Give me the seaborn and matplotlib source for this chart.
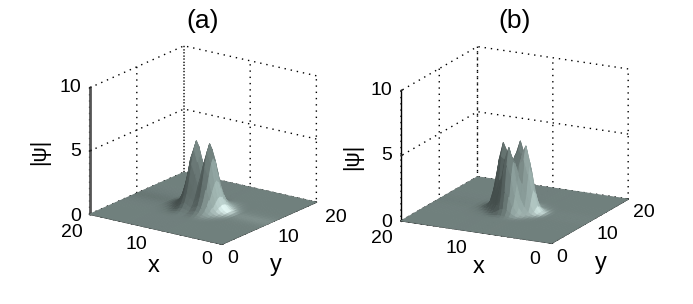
import matplotlib
matplotlib.use("Agg")
import matplotlib.pyplot as plt
import numpy as np
import seaborn as sns
from mpl_toolkits.mplot3d import proj3d

# distance from the centre (10, 10) of the nodes
offsets = [0, 0.5, 1, 1.5, 2, 2.5, 3, 3.5, 4, 4.5, 5]

# |psi| heights, one quadrant each (both humps are mirror symmetric)
# rows: |y - 10|, columns: |x - 10|
psi_a = [
    [2.90, 4.10, 5.20, 4.25, 2.50, 1.25, 0.60, 0.28, 0.13, 0.05, 0],
    [2.61, 3.69, 4.68, 3.83, 2.25, 1.13, 0.54, 0.25, 0.12, 0.05, 0],
    [1.97, 2.79, 3.54, 2.89, 1.70, 0.85, 0.41, 0.19, 0.09, 0.03, 0],
    [1.28, 1.80, 2.29, 1.87, 1.10, 0.55, 0.26, 0.12, 0.06, 0.02, 0],
    [0.73, 1.03, 1.30, 1.06, 0.63, 0.31, 0.15, 0.07, 0.03, 0.01, 0],
    [0.38, 0.53, 0.68, 0.55, 0.33, 0.16, 0.08, 0.04, 0.02, 0.01, 0],
    [0.19, 0.27, 0.34, 0.28, 0.16, 0.08, 0.04, 0.02, 0.01, 0, 0],
    [0.09, 0.12, 0.16, 0.13, 0.08, 0.04, 0.02, 0.01, 0, 0, 0],
    [0.03, 0.05, 0.06, 0.05, 0.03, 0.02, 0.01, 0, 0, 0, 0],
    [0.01, 0.02, 0.02, 0.02, 0.01, 0.01, 0, 0, 0, 0, 0],
    [0, 0, 0, 0, 0, 0, 0, 0, 0, 0, 0],
]
psi_b = [
    [2.51, 3.07, 4.39, 5.03, 3.82, 1.84, 0.57, 0.13, 0.03, 0.01, 0],
    [3.07, 3.27, 3.87, 4.09, 3.04, 1.47, 0.46, 0.11, 0.03, 0.01, 0],
    [4.39, 3.87, 3.02, 2.36, 1.58, 0.75, 0.26, 0.07, 0.02, 0.01, 0],
    [5.03, 4.09, 2.36, 1.20, 0.63, 0.29, 0.11, 0.04, 0.01, 0.01, 0],
    [3.82, 3.04, 1.58, 0.63, 0.25, 0.11, 0.05, 0.02, 0.01, 0, 0],
    [1.84, 1.47, 0.75, 0.29, 0.11, 0.05, 0.03, 0.01, 0.01, 0, 0],
    [0.57, 0.46, 0.26, 0.11, 0.05, 0.03, 0.02, 0.01, 0, 0, 0],
    [0.13, 0.11, 0.07, 0.04, 0.02, 0.01, 0.01, 0, 0, 0, 0],
    [0.03, 0.03, 0.02, 0.01, 0.01, 0.01, 0, 0, 0, 0, 0],
    [0.01, 0.01, 0.01, 0.01, 0, 0, 0, 0, 0, 0, 0],
    [0, 0, 0, 0, 0, 0, 0, 0, 0, 0, 0],
]
xy_ticks = [0, 10, 20]
z_ticks = [0, 5, 10]

BASE = np.array([0.44, 0.50, 0.49])
W, H = 693, 304


def full_surface(quadrant):
    # unfold the quadrant and put it on the flat sheet that spans 0..20
    q = np.array(quadrant, dtype=float)
    right = np.hstack([q[:, :0:-1], q])
    block = np.vstack([right[:0:-1], right])
    z = np.pad(block, 1)
    off = np.array(offsets)
    nodes = np.concatenate([[0], 10 - off[:0:-1], 10 + off, [20]])
    return nodes, z


def soften(col):
    # 1-2-1 pass over the shading only, the heights stay as typed
    out = col.copy()
    for axis in (0, 1):
        out = (np.roll(out, 1, axis) + 2 * out + np.roll(out, -1, axis)) / 4
    return out


def facet_colors(nodes, z, azim, elev, box):
    az = np.radians(azim)
    right = np.array([-np.sin(az), np.cos(az), 0])
    front = np.array([np.cos(az), np.sin(az), 0])
    up = np.array([0, 0, 1.0])
    light = 0.75 * right + 0.5 * front + 0.45 * up
    light /= np.linalg.norm(light)
    shine = 0.45 * right + 0.35 * front + 0.8 * up
    shine /= np.linalg.norm(shine)

    # slopes at the nodes in drawn proportions, x runs backwards on this axis
    dzdy, dzdx = np.gradient(z, nodes, nodes)
    scale = box * 2
    sx, sy = -dzdx * scale, dzdy * scale
    norm = np.sqrt(sx**2 + sy**2 + 1)
    n = np.dstack([-sx / norm, -sy / norm, 1 / norm])

    floor_spec = shine[2] ** 20
    amb = 0.62
    k = (1 - amb) / light[2]
    diff = np.clip(n @ light, 0, None)
    spec = np.clip(n @ shine, 0, None) ** 20
    node_col = BASE * (amb + k * diff)[..., None] + 0.6 * (spec - floor_spec)[..., None]
    node_col = soften(node_col)
    # a facet takes the mean of its four corners
    col = (node_col[:-1, :-1] + node_col[1:, :-1] + node_col[:-1, 1:] + node_col[1:, 1:]) / 4
    col = np.clip(col, 0, 1)
    return np.dstack([col, np.ones(col.shape[:2])])


def tick_text(ax, x, y, z, text, dx, dy, ha="center"):
    px, py, _ = proj3d.proj_transform(x, y, z, ax.get_proj())
    ax.annotate(text, (px, py), xytext=(dx, -dy), textcoords="offset pixels",
                ha=ha, va="center", fontsize=14, color="black", annotation_clip=False)


def draw_panel(rect, quadrant, azim, elev, box, zcolor, zwidth, x_off, y_off, z_off):
    ax = fig.add_axes(rect, projection="3d", proj_type="ortho", computed_zorder=False)
    ax.view_init(elev=elev, azim=azim)
    ax.set_box_aspect((1, 1, box))
    ax.patch.set_alpha(0)

    nodes, z = full_surface(quadrant)
    X, Y = np.meshgrid(nodes, nodes)
    ax.plot_surface(X, Y, z, facecolors=facet_colors(nodes, z, azim, elev, box),
                    rstride=1, cstride=1, shade=False, linewidth=0.7, antialiased=True)

    ax.set_xlim(20, 0, view_margin=0)
    ax.set_ylim(0, 20, view_margin=0)
    ax.set_zlim(0, 10, view_margin=0)
    ax.set_xticks(xy_ticks)
    ax.set_yticks(xy_ticks)
    ax.set_zticks(z_ticks)
    ax.set_xticklabels([])
    ax.set_yticklabels([])
    ax.set_zticklabels([])

    for axis in (ax.xaxis, ax.yaxis, ax.zaxis):
        axis.set_pane_color((1, 1, 1, 0))
        axis.pane.set_edgecolor((1, 1, 1, 0))
        axis._axinfo["grid"].update(color="black", linewidth=1.0, linestyle=(0, (1, 3.5)))
        axis._axinfo["tick"].update(inward_factor=0, outward_factor=0.2)
        axis.line.set_color("black")
        axis.line.set_linewidth(0.9)
    ax.zaxis.line.set_color(zcolor)
    ax.zaxis.line.set_linewidth(zwidth)
    ax.zaxis.set_ticks_position("lower")

    for t, (dx, dy) in zip(xy_ticks, x_off):
        tick_text(ax, t, 0, 0, str(t), dx, dy)
    for t, (dx, dy) in zip(xy_ticks, y_off):
        tick_text(ax, 0, t, 0, str(t), dx, dy)
    for t in z_ticks:
        tick_text(ax, 20, 0, t, str(t), z_off, 2 if t == 0 else 0, ha="right")
    return ax


sns.set_theme(style="white")
plt.rcParams["font.family"] = ["Liberation Sans", "DejaVu Sans"]

fig = plt.figure(figsize=(W / 100, H / 100), dpi=100, facecolor="white")


def pixel_text(x, y, text, size, rotation=0):
    fig.text(x / W, 1 - y / H, text, ha="center", va="center", fontsize=size,
             rotation=rotation, color="black")


def square(cx, cy, side):
    return [(cx - side / 2) / W, 1 - (cy + side / 2) / H, side / W, side / H]


# offsets of the tick labels in pixels, in tick order 0, 10, 20
draw_panel(square(199.5, 148.5, 258), psi_a, -54.5, 18.5, 0.82, "#555555", 2.0,
           [(-15, 15), (-19, 15), (-18, 18)], [(11, 14), (19, 14), (20, 15)], -8)
draw_panel(square(511, 148.5, 267), psi_b, -63.1, 17, 0.806, "black", 1.0,
           [(-17, 16), (-20, 16.5), (-19, 18)], [(10, 14), (17.5, 13), (16, 13)], -9)

pixel_text(203, 21, "(a)", 19)
pixel_text(515, 21, "(b)", 19)
pixel_text(154, 266, "x", 17)
pixel_text(276, 265, "y", 17)
pixel_text(479, 267, "x", 17)
pixel_text(601, 263, "y", 17)
pixel_text(40, 152, "|ψ|", 15.5, rotation=90)
pixel_text(353, 157, "|ψ|", 15.5, rotation=90)

fig.savefig("out.png", dpi=100)
